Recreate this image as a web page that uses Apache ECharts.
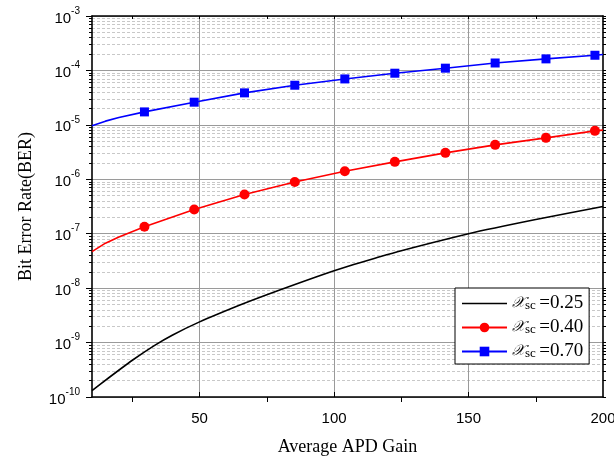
<!DOCTYPE html>
<html>
<head>
<meta charset="utf-8">
<script src="https://cdn.jsdelivr.net/npm/echarts@6/dist/echarts.min.js"></script>
<style>
  html, body { margin: 0; padding: 0; background: #fff; }
  #chart { width: 614px; height: 457px; }
</style>
</head>
<body>
<div id="chart"></div>
<script>
// BER versus average APD gain for three scintillation strengths
const gainTicksMajor = [50, 100, 150];
const gainTicksMinor = [25, 75, 125, 175];
const gainTicksTop = [25, 50, 75, 100, 125, 150, 175];
const gainLabels = [50, 100, 150, 200];

const minorMantissas = [2, 3, 4, 5, 6, 7, 8, 9];
const decadeExponents = [-10, -9, -8, -7, -6, -5, -4];

const legendNames = ['0.25', '0.40', '0.70'];

// chi_sc = 0.25
const blackGain = [10, 16, 25, 33, 40, 50, 65, 75, 100, 117, 125, 150, 175, 200];
const blackBer = [1.31e-10, 2.21e-10, 4.73e-10, 8.71e-10, 1.38e-9, 2.40e-9, 4.90e-9, 7.59e-9,
                  2.09e-8, 3.76e-8, 4.88e-8, 1.0e-7, 1.82e-7, 3.16e-7];

// chi_sc = 0.40
const redGain = [10, 15, 20, 29.5, 48, 66.7, 85.4, 104, 122.6, 141.4, 159.9, 178.8, 197, 200];
const redBer = [4.7e-8, 6.7e-8, 8.7e-8, 1.34e-7, 2.79e-7, 5.26e-7, 8.89e-7, 1.41e-6,
                2.09e-6, 3.06e-6, 4.29e-6, 5.77e-6, 7.76e-6, 8.0e-6];

// chi_sc = 0.70
const blueGain = [10, 15, 20, 29.5, 48, 66.7, 85.4, 104, 122.6, 141.4, 159.9, 178.8, 197, 200];
const blueBer = [9.6e-6, 1.17e-5, 1.36e-5, 1.73e-5, 2.61e-5, 3.87e-5, 5.35e-5, 6.98e-5,
                 8.89e-5, 1.10e-4, 1.37e-4, 1.63e-4, 1.90e-4, 1.96e-4];

// indices of points that carry a marker symbol
const markedIdx = [3, 4, 5, 6, 7, 8, 9, 10, 11, 12];

const minorValues = [];
decadeExponents.forEach(e => minorMantissas.forEach(m => minorValues.push(m * Math.pow(10, e))));
const allLogValues = [];
[-10, -9, -8, -7, -6, -5, -4, -3].forEach(e => allLogValues.push(Math.pow(10, e)));
minorValues.forEach(v => allLogValues.push(v));

function pairs(xs, ys, marked) {
  return xs.map((x, i) => {
    const item = { value: [x, ys[i]] };
    if (marked && marked.indexOf(i) < 0) item.symbol = 'none';
    return item;
  });
}

const chart = echarts.init(document.getElementById('chart'), null, { renderer: 'canvas' });

const serif = 'Liberation Serif, Times New Roman, serif';
const sans = 'Liberation Sans, Arial, sans-serif';
const logMin = 1e-10, logMax = 1e-3;

const legendRich = {
  x: { fontFamily: 'DejaVu Serif, DejaVu Sans, serif', fontSize: 15, fontStyle: 'italic', color: '#000' },
  s: { fontFamily: serif, fontSize: 13, color: '#000', padding: [4, 0, 0, 0] },
  v: { fontFamily: serif, fontSize: 19, color: '#000' }
};

// plain line icon for the curve drawn without markers
const plainLineIcon = 'path://M0,0 L45,0 L45,1.6 L0,1.6 Z';

chart.setOption({
  animation: false,
  backgroundColor: '#fff',
  grid: { left: 92, right: 11, top: 16, bottom: 60, outerBoundsMode: 'none', containLabel: false },
  legend: {
    orient: 'vertical',
    left: 455,
    top: 288,
    width: 135,
    padding: [6, 6, 3, 6],
    itemGap: 5,
    itemWidth: 45,
    itemHeight: 12,
    backgroundColor: '#fff',
    borderColor: '#000',
    borderWidth: 1,
    borderRadius: 0,
    data: [
      { name: legendNames[0], icon: plainLineIcon },
      { name: legendNames[1] },
      { name: legendNames[2] }
    ],
    formatter: n => '{x|𝒳}{s|sc} {v|=' + n + '}',
    textStyle: { rich: legendRich }
  },
  xAxis: [
    {
      type: 'value', position: 'bottom', min: 10, max: 200,
      axisLine: { onZero: false, lineStyle: { color: '#000', width: 1.6 } },
      axisTick: { show: true, inside: true, length: 5, customValues: gainTicksMajor,
                  lineStyle: { color: '#000' } },
      axisLabel: { customValues: gainLabels, margin: 14,
                   fontFamily: sans, fontSize: 15, color: '#000' },
      splitLine: { show: true, lineStyle: { color: '#9a9a9a', width: 1 } },
      name: 'Average APD Gain', nameLocation: 'middle', nameGap: 41,
      nameTextStyle: { fontFamily: serif, fontSize: 18, color: '#000' }
    },
    {
      type: 'value', position: 'bottom', min: 10, max: 200,
      axisLine: { show: false, onZero: false },
      axisTick: { show: true, length: 5, customValues: gainTicksMinor, lineStyle: { color: '#000' } },
      axisLabel: { show: false },
      splitLine: { show: false }
    },
    {
      type: 'value', position: 'top', min: 10, max: 200,
      axisLine: { onZero: false, lineStyle: { color: '#000', width: 1.6 } },
      axisTick: { show: true, inside: true, length: 3, customValues: gainTicksTop, lineStyle: { color: '#000' } },
      axisLabel: { show: false },
      splitLine: { show: false }
    }
  ],
  yAxis: [
    {
      type: 'log', logBase: 10, position: 'left', min: logMin, max: logMax,
      axisLine: { onZero: false, lineStyle: { color: '#000', width: 1.6 } },
      axisTick: { show: true, length: 6, lineStyle: { color: '#000' } },
      axisLabel: {
        margin: 12, color: '#000',
        formatter: v => '{b|10}{e|' + Math.round(Math.log10(v)) + '}',
        rich: {
          b: { fontFamily: sans, fontSize: 15, color: '#000', padding: [5, 0, 0, 0] },
          e: { fontFamily: sans, fontSize: 10, color: '#000', verticalAlign: 'top' }
        }
      },
      splitLine: { show: true, lineStyle: { color: '#9a9a9a', width: 1 } },
      name: 'Bit Error Rate(BER)', nameLocation: 'middle', nameGap: 57,
      nameTextStyle: { fontFamily: serif, fontSize: 18, color: '#000' }
    },
    {
      type: 'log', logBase: 10, position: 'left', min: logMin, max: logMax,
      axisLine: { show: false, onZero: false },
      axisTick: { show: true, length: 3, customValues: minorValues, lineStyle: { color: '#000' } },
      axisLabel: { show: false },
      splitLine: { show: true, lineStyle: { color: '#c8c8c8', width: 1, type: [3, 2] } }
    },
    {
      type: 'log', logBase: 10, position: 'right', min: logMin, max: logMax,
      axisLine: { onZero: false, lineStyle: { color: '#000', width: 1.6 } },
      axisTick: { show: true, length: 3, customValues: allLogValues, lineStyle: { color: '#000' } },
      axisLabel: { show: false },
      splitLine: { show: false }
    }
  ],
  series: [
    {
      name: legendNames[0], type: 'line', xAxisIndex: 0, yAxisIndex: 0,
      data: pairs(blackGain, blackBer, null),
      showSymbol: false, symbol: 'none', smooth: 0.2,
      color: '#000', lineStyle: { color: '#000', width: 1.6 }, z: 5
    },
    {
      name: legendNames[1], type: 'line', xAxisIndex: 0, yAxisIndex: 0,
      data: pairs(redGain, redBer, markedIdx),
      symbol: 'circle', symbolSize: 10,
      color: '#ff0000', itemStyle: { color: '#ff0000' },
      lineStyle: { color: '#ff0000', width: 1.6 }, z: 6
    },
    {
      name: legendNames[2], type: 'line', xAxisIndex: 0, yAxisIndex: 0,
      data: pairs(blueGain, blueBer, markedIdx),
      symbol: 'rect', symbolSize: 9,
      color: '#0000ff', itemStyle: { color: '#0000ff' },
      lineStyle: { color: '#0000ff', width: 1.6 }, z: 7
    }
  ]
});
</script>
</body>
</html>
